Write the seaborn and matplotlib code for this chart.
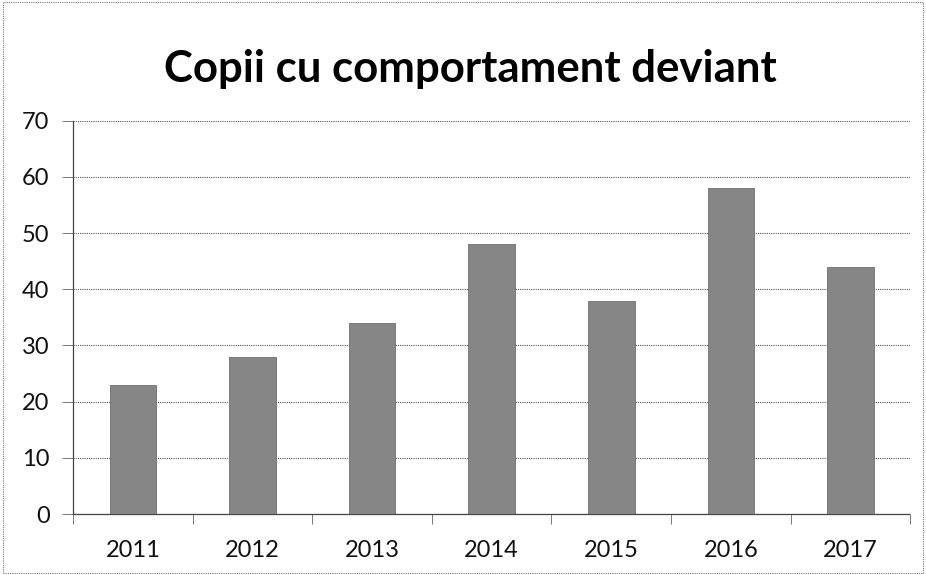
import matplotlib
matplotlib.use("Agg")
import matplotlib.pyplot as plt
import seaborn as sns
import pandas as pd
import numpy as np
from matplotlib.patches import Rectangle

years = ["2011", "2012", "2013", "2014", "2015", "2016", "2017"]
values = [23, 28, 34, 48, 38, 58, 44]
yticks = [0, 10, 20, 30, 40, 50, 60, 70]
title = "Copii cu comportament deviant"

sns.set_theme(style="white")
plt.rcParams["font.family"] = ["Lato", "DejaVu Sans"]

df = pd.DataFrame({"year": years, "value": values})

fig = plt.figure(figsize=(9.26, 5.75), dpi=100)
ax = fig.add_axes([0.079, 0.106, 0.904, 0.684])

sns.barplot(data=df, x="year", y="value", color="#868686", width=0.39,
            saturation=1, ax=ax, zorder=3, edgecolor="#6e6e6e", linewidth=0.6)

ax.set_ylim(0, 70)
ax.set_yticks(yticks)
ax.set_xlim(-0.5, len(years) - 0.5)
ax.set_xticks(np.arange(-0.5, len(years)), minor=True)
ax.yaxis.grid(True, linestyle=(0, (1, 1)), color="#555555", linewidth=0.8, zorder=0)
ax.set_axisbelow(True)
ax.set_xlabel("")
ax.set_ylabel("")
for s in ["top", "right"]:
    ax.spines[s].set_visible(False)
for s in ["left", "bottom"]:
    ax.spines[s].set_linestyle((0, (1, 1)))
    ax.spines[s].set_color("#444444")
    ax.spines[s].set_linewidth(0.9)
ax.tick_params(axis="y", labelsize=17, colors="#111111", length=8, width=0.7,
               direction="out", pad=9, left=True, color="#777777")
ax.tick_params(axis="x", which="major", labelsize=17, length=0, pad=19)
ax.tick_params(axis="x", which="minor", length=7, width=0.7, direction="out",
               bottom=True, color="#777777")
for lab in ax.get_xticklabels() + ax.get_yticklabels():
    lab.set_color("#111111")

fig.text(0.508, 0.88, title, ha="center", va="center", fontsize=31.5,
         fontweight="bold", color="#000000")

fig.patches.append(Rectangle((0.003, 0.003), 0.994, 0.994, transform=fig.transFigure,
                             fill=False, edgecolor="#777777", linewidth=0.8,
                             linestyle=(0, (1, 1))))

fig.savefig("out.png", dpi=100, facecolor="white")
